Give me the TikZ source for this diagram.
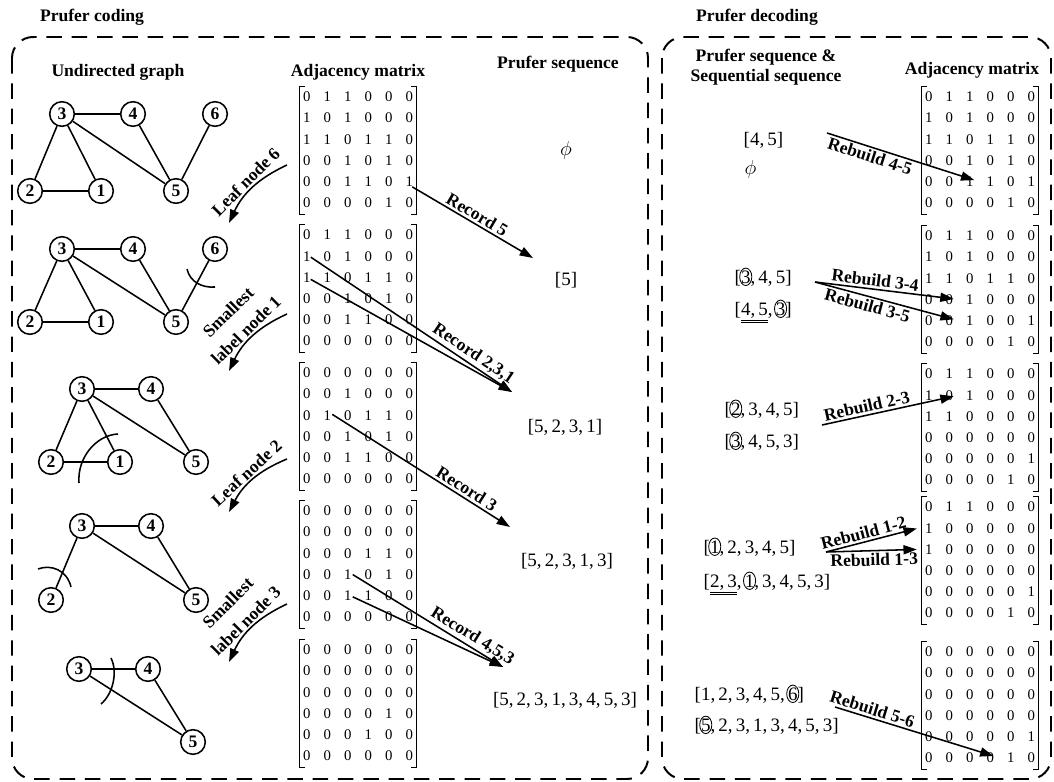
\documentclass[tikz,border=0pt]{standalone}
\usepackage{fontspec}
\setmainfont{Liberation Serif}
\usetikzlibrary{matrix,arrows.meta}

% circled digit and double underline inside the sequences
\newcommand{\circd}[1]{\tikz[baseline=(cd.base)]{\node[inner sep=0pt] (cd) {#1};
  \draw[overlay,line width=0.6pt] (cd.center) ellipse [x radius=4.3pt, y radius=6.2pt];}}
\newcommand{\dul}[1]{\underline{\underline{#1}}}

\begin{document}
\begin{tikzpicture}[x=0.025cm, y=-0.025cm,
  vtx/.style={circle, draw, line width=1.1pt, minimum size=17.5pt, inner sep=0pt,
    font=\bfseries\fontsize{12.5}{12.5}\selectfont},
  edge/.style={line width=1.1pt},
  cut/.style={line width=1.1pt},
  hdr/.style={font=\bfseries\fontsize{12.5}{14.2}\selectfont, align=center},
  seq/.style={font=\fontsize{13.5}{16}\selectfont, inner sep=1pt},
  lbl/.style={font=\bfseries\fontsize{12.5}{18}\selectfont, inner sep=1.5pt, align=center},
  cell/.style={minimum width=14.58pt, minimum height=15.08pt, inner sep=0pt,
    font=\fontsize{10.5}{10.5}\selectfont},
  adjmat/.style={matrix of nodes, ampersand replacement=\&, inner sep=0pt, nodes={cell}},
  bracket/.style={line width=0.5pt},
  pointer/.style={line width=1.1pt, -{Triangle[length=9.5pt, width=6.5pt]}},
  frame/.style={line width=1.4pt, dash pattern=on 11pt off 7pt, rounded corners=15pt}
]
\useasboundingbox (0,0) rectangle (1054,782);

% frames and titles
\draw[frame] (12,37) rectangle (648,779);
\draw[frame] (662,37) rectangle (1051,779);
\node[hdr] (tcod) at (92,17) {Prufer coding};
\node[hdr] (tdec) at (757,17) {Prufer decoding};
\node[hdr] (hgraph) at (118,72) {Undirected graph};
\node[hdr] (hmat) at (358,72) {Adjacency matrix};
\node[hdr] (hseq) at (558,64) {Prufer sequence};
\node[hdr] (hpair) at (766,67) {Prufer sequence \&\\Sequential sequence};
\node[hdr] (hmatb) at (972,70) {Adjacency matrix};

% graphs
\foreach \n/\x/\y in {3/62/114, 4/133/114, 6/215/114, 2/30/191, 1/101/191, 5/176/191}
  \node[vtx] (g1v\n) at (\x,\y) {\n};
\foreach \i/\j in {3/4, 3/2, 3/1, 3/5, 2/1, 4/5, 5/6}
  \draw[edge] (g1v\i) -- (g1v\j);

\foreach \n/\x/\y in {3/62/249, 4/133/249, 6/215/249, 2/30/322, 1/101/322, 5/176/322}
  \node[vtx] (g2v\n) at (\x,\y) {\n};
\foreach \i/\j in {3/4, 3/2, 3/1, 3/5, 2/1, 4/5, 5/6}
  \draw[edge] (g2v\i) -- (g2v\j);
\draw[cut] (187,269) .. controls (190,282) and (202,288) .. (215,287);

\foreach \n/\x/\y in {3/82/389, 4/151/389, 2/51/462, 1/120/462, 5/196/462}
  \node[vtx] (g3v\n) at (\x,\y) {\n};
\foreach \i/\j in {3/4, 3/2, 3/1, 3/5, 2/1, 4/5}
  \draw[edge] (g3v\i) -- (g3v\j);
\draw[cut] (79,483) .. controls (77,458) and (96,435) .. (118,434);

\foreach \n/\x/\y in {3/82/526, 4/151/526, 2/51/600, 5/196/600}
  \node[vtx] (g4v\n) at (\x,\y) {\n};
\foreach \i/\j in {3/4, 3/2, 3/5, 4/5}
  \draw[edge] (g4v\i) -- (g4v\j);
\draw[cut] (38,569) .. controls (51,564) and (67,570) .. (71,587);

\foreach \n/\x/\y in {3/79/669, 4/148/669, 5/193/742}
  \node[vtx] (g5v\n) at (\x,\y) {\n};
\foreach \i/\j in {3/4, 3/5, 4/5}
  \draw[edge] (g5v\i) -- (g5v\j);
\draw[cut] (111,658) .. controls (118,672) and (113,694) .. (101,704);

% coding matrices
\matrix (L1) [adjmat] at (358,150) {
0 \& 1 \& 1 \& 0 \& 0 \& 0 \\
1 \& 0 \& 1 \& 0 \& 0 \& 0 \\
1 \& 1 \& 0 \& 1 \& 1 \& 0 \\
0 \& 0 \& 1 \& 0 \& 1 \& 0 \\
0 \& 0 \& 1 \& 1 \& 0 \& 1 \\
0 \& 0 \& 0 \& 0 \& 1 \& 0 \\};
\matrix (L2) [adjmat] at (358,288) {
0 \& 1 \& 1 \& 0 \& 0 \& 0 \\
1 \& 0 \& 1 \& 0 \& 0 \& 0 \\
1 \& 1 \& 0 \& 1 \& 1 \& 0 \\
0 \& 0 \& 1 \& 0 \& 1 \& 0 \\
0 \& 0 \& 1 \& 1 \& 0 \& 0 \\
0 \& 0 \& 0 \& 0 \& 0 \& 0 \\};
\matrix (L3) [adjmat] at (358,426) {
0 \& 0 \& 0 \& 0 \& 0 \& 0 \\
0 \& 0 \& 1 \& 0 \& 0 \& 0 \\
0 \& 1 \& 0 \& 1 \& 1 \& 0 \\
0 \& 0 \& 1 \& 0 \& 1 \& 0 \\
0 \& 0 \& 1 \& 1 \& 0 \& 0 \\
0 \& 0 \& 0 \& 0 \& 0 \& 0 \\};
\matrix (L4) [adjmat] at (358,564) {
0 \& 0 \& 0 \& 0 \& 0 \& 0 \\
0 \& 0 \& 0 \& 0 \& 0 \& 0 \\
0 \& 0 \& 0 \& 1 \& 1 \& 0 \\
0 \& 0 \& 1 \& 0 \& 1 \& 0 \\
0 \& 0 \& 1 \& 1 \& 0 \& 0 \\
0 \& 0 \& 0 \& 0 \& 0 \& 0 \\};
\matrix (L5) [adjmat] at (358,703) {
0 \& 0 \& 0 \& 0 \& 0 \& 0 \\
0 \& 0 \& 0 \& 0 \& 0 \& 0 \\
0 \& 0 \& 0 \& 0 \& 0 \& 0 \\
0 \& 0 \& 0 \& 0 \& 1 \& 0 \\
0 \& 0 \& 0 \& 1 \& 0 \& 0 \\
0 \& 0 \& 0 \& 0 \& 0 \& 0 \\};

% decoding matrices
\matrix (R1) [adjmat] at (980,150) {
0 \& 1 \& 1 \& 0 \& 0 \& 0 \\
1 \& 0 \& 1 \& 0 \& 0 \& 0 \\
1 \& 1 \& 0 \& 1 \& 1 \& 0 \\
0 \& 0 \& 1 \& 0 \& 1 \& 0 \\
0 \& 0 \& 1 \& 1 \& 0 \& 1 \\
0 \& 0 \& 0 \& 0 \& 1 \& 0 \\};
\matrix (R2) [adjmat] at (980,289) {
0 \& 1 \& 1 \& 0 \& 0 \& 0 \\
1 \& 0 \& 1 \& 0 \& 0 \& 0 \\
1 \& 1 \& 0 \& 1 \& 1 \& 0 \\
0 \& 0 \& 1 \& 0 \& 0 \& 0 \\
0 \& 0 \& 1 \& 0 \& 0 \& 1 \\
0 \& 0 \& 0 \& 0 \& 1 \& 0 \\};
\matrix (R3) [adjmat] at (980,427) {
0 \& 1 \& 1 \& 0 \& 0 \& 0 \\
1 \& 0 \& 1 \& 0 \& 0 \& 0 \\
1 \& 1 \& 0 \& 0 \& 0 \& 0 \\
0 \& 0 \& 0 \& 0 \& 0 \& 0 \\
0 \& 0 \& 0 \& 0 \& 0 \& 1 \\
0 \& 0 \& 0 \& 0 \& 1 \& 0 \\};
\matrix (R4) [adjmat] at (980,560) {
0 \& 1 \& 1 \& 0 \& 0 \& 0 \\
1 \& 0 \& 0 \& 0 \& 0 \& 0 \\
1 \& 0 \& 0 \& 0 \& 0 \& 0 \\
0 \& 0 \& 0 \& 0 \& 0 \& 0 \\
0 \& 0 \& 0 \& 0 \& 0 \& 1 \\
0 \& 0 \& 0 \& 0 \& 1 \& 0 \\};
\matrix (R5) [adjmat] at (980,705) {
0 \& 0 \& 0 \& 0 \& 0 \& 0 \\
0 \& 0 \& 0 \& 0 \& 0 \& 0 \\
0 \& 0 \& 0 \& 0 \& 0 \& 0 \\
0 \& 0 \& 0 \& 0 \& 0 \& 0 \\
0 \& 0 \& 0 \& 0 \& 0 \& 1 \\
0 \& 0 \& 0 \& 0 \& 1 \& 0 \\};

\foreach \m in {L1,L2,L3,L4,L5,R1,R2,R3,R4,R5}
  \draw[bracket] ([xshift=6pt]\m.north west) -- ([xshift=2.5pt]\m.north west)
      -- ([xshift=2.5pt]\m.south west) -- ([xshift=6pt]\m.south west)
    ([xshift=-6pt]\m.north east) -- ([xshift=-2.5pt]\m.north east)
      -- ([xshift=-2.5pt]\m.south east) -- ([xshift=-6pt]\m.south east);

% prufer sequences
\node[seq] (s1) at (566,150) {$\phi$};
\node[seq] (s2) at (566,280) {[5]};
\node[seq] (s3) at (565,427) {[5,\,2,\,3,\,1]};
\node[seq] (s4) at (567,561) {[5,\,2,\,3,\,1,\,3]};
\node[seq] (s5) at (565,700) {[5,\,2,\,3,\,1,\,3,\,4,\,5,\,3]};

% coding steps
\coordinate (c1s) at (287,165); \coordinate (c1e) at (229,223);
\coordinate (c2s) at (287,314); \coordinate (c2e) at (229,371);
\coordinate (c3s) at (287,459); \coordinate (c3e) at (229,512);
\coordinate (c4s) at (287,604); \coordinate (c4e) at (229,662);
\draw[pointer] (c1s) to[bend right=20] node[lbl, sloped, above] {Leaf node 6} (c1e);
\draw[pointer] (c2s) to[bend right=20] node[lbl, sloped, above] {Smallest\\label node 1} (c2e);
\draw[pointer] (c3s) to[bend right=20] node[lbl, sloped, above] {Leaf node 2} (c3e);
\draw[pointer] (c4s) to[bend right=20] node[lbl, sloped, above] {Smallest\\label node 3} (c4e);

\coordinate (t1) at (533,258);
\coordinate (t2) at (512,392);
\coordinate (t3) at (510,527);
\coordinate (t4) at (503,667);
\draw[pointer] ([shift={(3,5)}]L1-5-6.center) -- node[lbl, sloped, above] {Record 5} (t1);
\draw[pointer] ([shift={(4,1)}]L2-2-1.center) -- node[lbl, sloped, above, pos=0.78] {Record 2,3,1} (t2);
\draw[pointer] ([shift={(4,2)}]L2-3-1.center) -- (t2);
\draw[pointer] ([shift={(5,-1)}]L3-3-2.center) -- node[lbl, sloped, above, pos=0.73] {Record 3} (t3);
\draw[pointer] ([shift={(5,0)}]L4-4-3.center) -- node[lbl, sloped, above, pos=0.76] {Record 4,5,3} (t4);
\draw[pointer] ([shift={(5,1)}]L4-5-3.center) -- (t4);

% decoding sequences
\node[seq, anchor=base west] (q1a) at (742,146) {[4,\,5]};
\node[seq, anchor=base west] (q1b) at (743,174) {$\phi$};
\node[seq, anchor=base west] (q2a) at (733,283) {[\circd{3},\,4,\,5]};
\node[seq, anchor=base west] (q2b) at (733,315) {[\dul{4,\,5},\,\circd{3}]};
\node[seq, anchor=base west] (q3a) at (723,415) {[\circd{2},\,3,\,4,\,5]};
\node[seq, anchor=base west] (q3b) at (723,447) {[\circd{3},\,4,\,5,\,3]};
\node[seq, anchor=base west] (q4a) at (702,553) {[\circd{1},\,2,\,3,\,4,\,5]};
\node[seq, anchor=base west] (q4b) at (702,587) {[\dul{2,\,3},\,\circd{1},\,3,\,4,\,5,\,3]};
\node[seq, anchor=base west] (q5a) at (693,700) {[1,\,2,\,3,\,4,\,5,\,\circd{6}]};
\node[seq, anchor=base west] (q5b) at (693,731) {[\circd{5},\,2,\,3,\,1,\,3,\,4,\,5,\,3]};

% decoding steps
\coordinate (r1) at (827,133);
\coordinate (r2) at (815,282);
\coordinate (r3) at (822,425);
\coordinate (r4) at (826,552);
\coordinate (r5) at (835,707);
\draw[pointer, shorten >=4pt] (r1) -- node[lbl, sloped, below, pos=0.3] {Rebuild 4-5} (R1-5-4.west);
\draw[pointer, shorten >=4pt] (r2) -- node[lbl, sloped, above, pos=0.41] {Rebuild 3-4} (R2-4-3.west);
\draw[pointer, shorten >=4pt] (r2) -- node[lbl, sloped, below, pos=0.38] {Rebuild 3-5} (R2-5-3.west);
\draw[pointer, shorten >=4pt] (r3) -- node[lbl, sloped, above, pos=0.34] {Rebuild 2-3} (R3-2-3.west);
\draw[pointer, shorten >=1pt] (r4) -- node[lbl, sloped, above, pos=0.43] {Rebuild 1-2} (R4-2-1.west);
\draw[pointer, shorten >=1pt] (r4) -- node[lbl, sloped, below, pos=0.52] {Rebuild 1-3} (R4-3-1.west);
\draw[pointer, shorten >=5pt] (r5) -- node[lbl, sloped, above, pos=0.21] {Rebuild 5-6} (R5-6-5.west);
\end{tikzpicture}
\end{document}
